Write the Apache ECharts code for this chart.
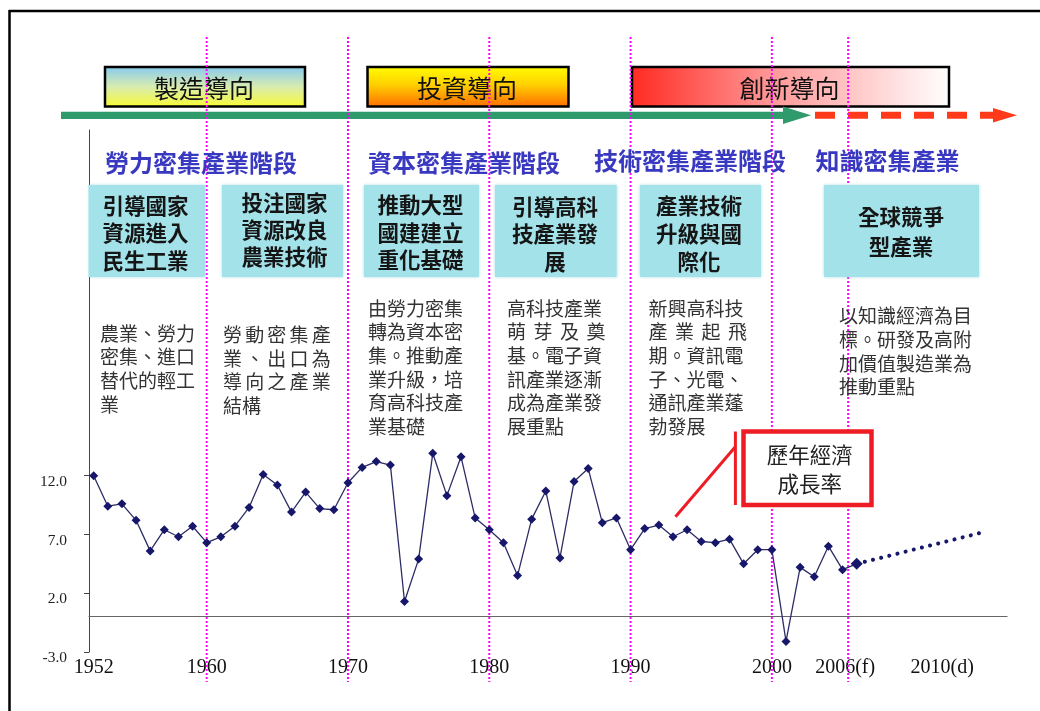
<!DOCTYPE html>
<html>
<head>
<meta charset="utf-8">
<title>產業發展階段與歷年經濟成長率</title>
<script src="https://cdn.jsdelivr.net/npm/echarts@6/dist/echarts.min.js"></script>
<style>
  html, body { margin: 0; padding: 0; background: #fff; }
  #main { width: 1040px; height: 711px; }
</style>
</head>
<body>
<div id="main"></div>
<script>
// 歷年經濟成長率 (%)，1952 ~ 2006
var startYear = 1952;
var growth = [
  12.0, 9.4, 9.6, 8.2, 5.6, 7.4, 6.8, 7.7, 6.3, 6.8,
  7.7, 9.3, 12.1, 11.2, 8.9, 10.6, 9.2, 9.1, 11.4, 12.7,
  13.2, 12.9, 1.3, 4.9, 13.9, 10.3, 13.6, 8.4, 7.4, 6.3,
  3.5, 8.3, 10.7, 5.0, 11.5, 12.6, 8.0, 8.4, 5.7, 7.5,
  7.8, 6.8, 7.4, 6.4, 6.3, 6.6, 4.5, 5.7, 5.7, -2.1,
  4.2, 3.4, 6.0, 4.0, 4.5
];
// 預測趨勢 (虛線)
var forecastYears = [2006, 2015];
var forecastValues = [4.5, 7.2];

// 座標軸標籤
var xLabelYears = [1952, 1960, 1970, 1980, 1990, 2000, 2006, 2010];
var yLabelValues = [-3, 2, 7, 12];
// 粉紅分隔虛線所在年份
var dividerYears = [1960, 1970, 1980, 1990, 2000, 2005.4];

// 文字
var orientations = ['製造導向', '投資導向', '創新導向'];
var stages = ['勞力密集產業階段', '資本密集產業階段', '技術密集產業階段', '知識密集產業'];
var policies = [
  '引導國家\n資源進入\n民生工業',
  '投注國家\n資源改良\n農業技術',
  '推動大型\n國建建立\n重化基礎',
  '引導高科\n技產業發\n展',
  '產業技術\n升級與國\n際化',
  '全球競爭\n型產業'
];
var notes = [
  ['農業、勞力', '密集、進口', '替代的輕工', '業'],
  ['勞動密集產', '業、出口為', '導向之產業', '結構'],
  ['由勞力密集', '轉為資本密', '集。推動產', '業升級，培', '育高科技產', '業基礎'],
  ['高科技產業', '萌芽及奠', '基。電子資', '訊產業逐漸', '成為產業發', '展重點'],
  ['新興高科技', '產業起飛', '期。資訊電', '子、光電、', '通訊產業蓬', '勃發展'],
  ['以知識經濟為目', '標。研發及高附', '加價值製造業為', '推動重點']
];
var calloutText = '歷年經濟\n成長率';

var CJK = '"Noto Sans CJK TC", "Noto Sans CJK SC", sans-serif';
var SERIF = '"Liberation Serif", "DejaVu Serif", serif';

// 字距拉開 (對齊用)
function spread(str, sp) {
  return str.split('').join(sp);
}

var chart = echarts.init(document.getElementById('main'));

var mainData = growth.map(function (v, i) {
  var item = { value: [startYear + i, v] };
  if (i === growth.length - 1) item.symbolSize = 12;
  return item;
});
var forecastData = forecastYears.map(function (y, i) {
  return [y, forecastValues[i]];
});

chart.setOption({
  animation: false,
  grid: { left: 89, right: 33, top: 130, bottom: 59 },
  xAxis: {
    type: 'value',
    min: 1951.67,
    max: 2016.64,
    splitLine: { show: false },
    axisTick: { show: false },
    axisLine: { onZero: true, lineStyle: { color: '#666', width: 1.2 } },
    axisLabel: {
      customValues: xLabelYears,
      margin: 6,
      color: '#111',
      fontFamily: SERIF,
      fontSize: 20,
      formatter: function (v) {
        if (v === 2006) return '{f|2006(f)}';
        if (v === 2010) return '{d|2010(d)}';
        return String(v);
      },
      rich: {
        f: { fontFamily: SERIF, fontSize: 20, color: '#111', padding: [0, 23, 0, 0] },
        d: { fontFamily: SERIF, fontSize: 20, color: '#111', padding: [0, 0, 0, 58] }
      }
    }
  },
  yAxis: {
    type: 'value',
    min: -3,
    max: 41.4,
    splitLine: { show: false },
    axisLine: { show: true, lineStyle: { color: '#444' } },
    axisTick: { show: true, customValues: yLabelValues, length: 5, lineStyle: { color: '#444' } },
    axisLabel: {
      customValues: yLabelValues,
      margin: 22,
      color: '#222',
      fontFamily: SERIF,
      fontSize: 15.5,
      verticalAlign: 'top',
      lineHeight: 12,
      formatter: function (v) { return v.toFixed(1); }
    }
  },
  series: [
    {
      name: '經濟成長率',
      type: 'line',
      data: mainData,
      symbol: 'diamond',
      symbolSize: 9,
      showAllSymbol: true,
      itemStyle: { color: '#16166a' },
      lineStyle: { color: '#2c2c66', width: 1.3 },
      z: 3
    },
    {
      name: '預測',
      type: 'line',
      data: forecastData,
      symbol: 'none',
      lineStyle: { color: '#16166a', width: 4, type: [0.1, 8.3], cap: 'round' },
      z: 3
    }
  ]
});

// ---- 圖面裝飾 ----
var g = [];

// 外框
g.push({ type: 'line', z: 0, shape: { x1: 9, y1: 11, x2: 1040, y2: 11 }, style: { stroke: '#000', lineWidth: 2.5 } });
g.push({ type: 'line', z: 0, shape: { x1: 9.5, y1: 10, x2: 9.5, y2: 711 }, style: { stroke: '#000', lineWidth: 2.5 } });

// 導向橫幅
var bannerBoxes = [
  { x: 105, w: 200, fill: { type: 'linear', x: 0, y: 0, x2: 0, y2: 1, colorStops: [
    { offset: 0, color: '#84c8f2' }, { offset: 0.5, color: '#d8ecb0' }, { offset: 1, color: '#fbfb30' }] } },
  { x: 367.5, w: 201, fill: { type: 'linear', x: 0, y: 0, x2: 0, y2: 1, colorStops: [
    { offset: 0, color: '#ffff00' }, { offset: 0.45, color: '#ffd000' }, { offset: 1, color: '#ff6a00' }] } },
  { x: 632, w: 317, fill: { type: 'linear', x: 0, y: 0, x2: 1, y2: 0, colorStops: [
    { offset: 0, color: '#ff2a22' }, { offset: 0.45, color: '#ff9a9a' }, { offset: 1, color: '#ffffff' }] } }
];
bannerBoxes.forEach(function (b, i) {
  g.push({ type: 'rect', z: 0, shape: { x: b.x, y: 67, width: b.w, height: 39.5 },
    style: { fill: b.fill, stroke: '#000', lineWidth: 2.5 } });
  g.push({ type: 'text', z: 1, style: { text: orientations[i], x: b.x + b.w / 2 - 1, y: 88,
    align: 'center', verticalAlign: 'middle', fontFamily: CJK, fontSize: 25, fill: '#111' } });
});

// 綠色箭頭
g.push({ type: 'rect', z: 0, shape: { x: 61, y: 111.7, width: 724, height: 7.3 }, style: { fill: '#2f9a6b' } });
g.push({ type: 'polygon', z: 0, shape: { points: [[783, 106.5], [811, 115.3], [783, 124]] }, style: { fill: '#2f9a6b' } });
// 紅色虛線箭頭
g.push({ type: 'line', z: 0, shape: { x1: 815, y1: 115.3, x2: 995, y2: 115.3 },
  style: { stroke: '#ff3a1a', lineWidth: 7, lineDash: [20, 13] } });
g.push({ type: 'polygon', z: 0, shape: { points: [[993, 108], [1017, 115.3], [993, 122.5]] }, style: { fill: '#ff3a1a' } });

// 階段標題
var stagePos = [[105, 163], [368, 163], [594, 161], [815.5, 161]];
stages.forEach(function (s, i) {
  g.push({ type: 'text', z: 4, style: { text: s, x: stagePos[i][0], y: stagePos[i][1],
    align: 'left', verticalAlign: 'middle', fontFamily: CJK, fontSize: 24, fontWeight: 'bold', fill: '#3838c0' } });
});

// 淺藍色方塊
var boxPos = [
  { x: 88.5, w: 116.5, tx: 102.5, align: 'left', ty: 192, lh: 27.5 },
  { x: 222, w: 121, tx: 241.5, align: 'left', ty: 189.5, lh: 27 },
  { x: 364, w: 115, tx: 377.5, align: 'left', ty: 191.5, lh: 27.5 },
  { x: 495, w: 121.5, tx: 555, align: 'center', ty: 193, lh: 27.5 },
  { x: 640, w: 121, tx: 699, align: 'center', ty: 192, lh: 28 },
  { x: 824, w: 155, tx: 901, align: 'center', ty: 201.5, lh: 30.5 }
];
boxPos.forEach(function (b, i) {
  g.push({ type: 'rect', z: 5, shape: { x: b.x, y: 185, width: b.w, height: 92 },
    style: { fill: '#a4e2ea', shadowBlur: 3, shadowColor: 'rgba(150,215,225,0.8)' } });
  g.push({ type: 'text', z: 6, style: { text: policies[i], x: b.tx, y: b.ty, align: b.align, verticalAlign: 'top',
    lineHeight: b.lh, fontFamily: CJK, fontSize: 21.5, fontWeight: 'bold', fill: '#151515' } });
});

// 說明文字
var S1 = '\u2006', S3 = '\u2004';
var notePos = [
  { x: 100, y: 321.5 }, { x: 223, y: 323 }, { x: 368, y: 296.5 },
  { x: 507, y: 296.5 }, { x: 648.5, y: 296.5 }, { x: 839, y: 304.2 }
];
notes.forEach(function (lines, i) {
  var out = lines.slice();
  if (i === 1) out = lines.map(function (l, k) { return k < 3 ? spread(l, S1) : l; });
  if (i === 3 || i === 4) out[1] = spread(lines[1], S3 + '\u200a');
  g.push({ type: 'text', z: 6, style: { text: out.join('\n'), x: notePos[i].x, y: notePos[i].y,
    align: 'left', verticalAlign: 'top', lineHeight: 23.7, fontFamily: CJK, fontSize: 19, fill: '#333' } });
});

// 紅框註解
g.push({ type: 'line', z: 5, shape: { x1: 735.4, y1: 431.5, x2: 735.4, y2: 505 }, style: { stroke: '#ee1c25', lineWidth: 3 } });
g.push({ type: 'line', z: 5, shape: { x1: 735.4, y1: 446.7, x2: 675.5, y2: 516.7 }, style: { stroke: '#ee1c25', lineWidth: 3 } });
g.push({ type: 'rect', z: 5, shape: { x: 743.5, y: 431.5, width: 128, height: 73.5 },
  style: { fill: '#fff', stroke: '#ee1c25', lineWidth: 4.5 } });
g.push({ type: 'text', z: 6, style: { text: calloutText, x: 809.8, y: 440.5, align: 'center', verticalAlign: 'top',
  lineHeight: 29, fontFamily: CJK, fontSize: 21.5, fill: '#222' } });

// 分隔虛線 (依 x 軸換算位置)
dividerYears.forEach(function (yr) {
  var px = chart.convertToPixel({ xAxisIndex: 0 }, yr);
  g.push({ type: 'line', z: 2, shape: { x1: px, y1: 37, x2: px, y2: 682 },
    style: { stroke: '#ff00ff', lineWidth: 2, lineDash: [2, 2] } });
});

chart.setOption({ graphic: g });
</script>
</body>
</html>
